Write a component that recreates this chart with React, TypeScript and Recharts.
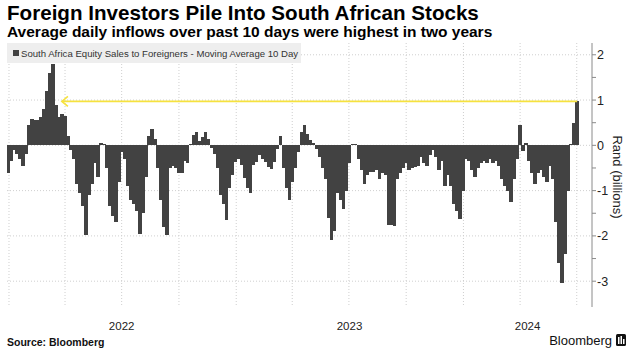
import React from "react";
import { BarChart, Bar, XAxis, YAxis, CartesianGrid, ReferenceLine } from "recharts";

/* ─── 10-day moving average of foreign net equity purchases (R bn) ─── */
// one value per ~4.8 calendar days, from the last day of 2021 to early July 2024
const flows = [
  -0.6, -0.35, -0.1, -0.2, -0.3, -0.45, -0.2, 0.45, 0.58, 0.55,
  0.55, 0.62, 0.8, 1.2, 1.6, 1.8, 0.9, 0.62, 0.7, 0.65,
  0.2, -0.1, -0.3, -0.85, -1.05, -1.35, -1.98, -1.1, -0.85, -0.4,
  -0.7, 0.05, 0.03, -0.5, -1.35, -1.55, -1.7, -0.8, -0.15, -0.3,
  -0.9, -1.2, -1.3, -1.45, -1.95, -1.5, -0.7, 0.2, 0.35, 0.15,
  -0.5, -1.2, -1.8, -1.98, -0.5, -0.45, -0.5, -0.6, -0.6, -0.35,
  -0.4, 0.03, 0.22, 0.3, 0.1, 0.18, 0.3, 0.15, -0.05, -0.2,
  -0.5, -1.1, -1.3, -1.65, -0.95, -0.66, -0.37, -0.3, -0.44, -0.73,
  -0.95, -1.05, -0.44, -0.37, -0.22, -0.3, -0.37, -0.48, -0.52, -0.37,
  -0.07, 0.2, -0.5, -0.95, -1.2, -0.8, -0.5, -0.15, 0.3, 0.44,
  0.26, 0.12, 0.06, -0.08, -0.25, -0.5, -0.75, -1.6, -2.1, -1.9,
  -1.05, -1.2, -1.4, -1.0, -0.4, 0.03, 0.04, -0.3, -0.55, -0.85,
  -0.65, -0.58, -0.58, -0.55, -0.75, -0.62, -0.66, -1.75, -1.75, -1.78,
  -0.75, -0.62, -0.5, -0.4, -0.55, -0.5, -0.48, -0.45, -0.25, -0.4,
  -0.45, -0.22, -0.1, -0.25, -0.55, -0.35, -0.9, -0.65, -0.9, -1.3,
  -1.45, -1.62, -1.0, -0.3, -0.35, -0.55, -0.7, -0.5, -0.38, -0.35,
  -0.38, -0.3, -0.4, -0.35, -0.45, -0.75, -0.9, -1.0, -1.25, -0.75,
  -0.3, 0.45, -0.12, 0.05, -0.35, -0.6, -0.85, -0.6, -0.55, -0.7,
  -0.8, -0.45, -0.75, -1.7, -2.6, -3.05, -2.4, -1.0, 0.04, 0.5,
  0.97,
];
const FIRST_DAY = -1.3; // days since 1 Jan 2022
const STEP_DAYS = 4.81;

/* ─── Axes ─── */
const quarterDays = [0, 90, 181, 273, 365, 455, 546, 638, 730, 821, 912];
const yearLabels = ["2022", "2023", "2024"];
const yearLabelDays = [181, 547, 833];
const yMajor = [-3, -2, -1, 0, 1, 2];
const yMinor = [-2.5, -1.5, -0.5, 0.5, 1.5];
const X_DOMAIN = [-3.2, 936.5];
const Y_DOMAIN = [-3.57, 2.26];

/* ─── Annotation arrow (latest reading vs. early-2022 peak) ─── */
const ARROW_FROM = 85;
const ARROW_LEVEL = 0.97;

const data = flows.map((v, i) => ({ day: FIRST_DAY + i * STEP_DAYS, v }));
const lastDay = data[data.length - 1].day;

const YELLOW = "#f6e23f";
const BAR = "#424242";
const BAR_W = 3.6;

// bars packed edge to edge; crisp edges so neighbours leave no light seams
const DenseBar = (p: any) => {
  const { x, y, width, height } = p;
  if (!height) return <g />;
  const cx = x + width / 2;
  const top = Math.min(y, y + height);
  return <rect x={cx - BAR_W / 2} y={top} width={BAR_W} height={Math.abs(height)} fill={BAR} shapeRendering="crispEdges" />;
};

const YTick = ({ x, y, payload }: any) => {
  if (!Number.isInteger(payload.value)) return <g />;
  return (
    <text x={x - 1} y={y} dy={4.5} fontSize={12.5} fill="#222" textAnchor="start">
      {payload.value}
    </text>
  );
};

const YearTick = ({ x, payload }: any) => {
  const i = yearLabelDays.indexOf(payload.value);
  return (
    <text x={x} y={330} fontSize={11.5} fill="#222" textAnchor="middle">
      {i >= 0 ? yearLabels[i] : ""}
    </text>
  );
};

const Arrow = (p: any) => {
  const { x1, y1, x2 } = p;
  const l = Math.min(x1, x2);
  const r = Math.max(x1, x2);
  return (
    <g>
      <line x1={l} y1={y1} x2={r} y2={y1} stroke={YELLOW} strokeWidth={1.8} />
      <polyline points={`${l + 6},${y1 - 5} ${l},${y1} ${l + 6},${y1 + 5}`} fill="none" stroke={YELLOW} strokeWidth={1.6} />
    </g>
  );
};

export default function App() {
  return (
    <div style={{ position: "fixed", left: 0, top: 0, width: 630, height: 353, background: "#fff", fontFamily: "'Liberation Sans', Arial, sans-serif", color: "#000", overflow: "hidden" }}>
      <div style={{ position: "absolute", left: 7, top: 3, fontSize: 20.6, fontWeight: 700, lineHeight: "20px", whiteSpace: "nowrap" }}>
        Foreign Investors Pile Into South African Stocks
      </div>
      <div style={{ position: "absolute", left: 7, top: 23.5, fontSize: 15.5, fontWeight: 700, lineHeight: "15px", whiteSpace: "nowrap" }}>
        Average daily inflows over past 10 days were highest in two years
      </div>

      <div style={{ position: "absolute", left: 0, top: 0 }}>
        <BarChart width={630} height={353} data={data} margin={{ top: 43, right: 0, left: 7, bottom: 0 }} barCategoryGap={0}>
          <CartesianGrid xAxisId="q" stroke="#cfcfcf" strokeDasharray="1 2" verticalValues={quarterDays} horizontalValues={yMajor} />
          <XAxis xAxisId="q" dataKey="day" type="number" domain={X_DOMAIN} allowDataOverflow ticks={quarterDays} hide />
          <XAxis xAxisId="yr" dataKey="day" type="number" domain={X_DOMAIN} allowDataOverflow ticks={yearLabelDays} interval={0}
            height={46} axisLine={false} tickLine={false} tick={<YearTick />} />
          <YAxis orientation="right" width={38} domain={Y_DOMAIN} allowDataOverflow ticks={[...yMinor, ...yMajor].sort((a, b) => a - b)}
            interval={0} axisLine={{ stroke: "#8a8a8a" }} tickLine={{ stroke: "#8a8a8a" }} tickSize={4} tick={<YTick />} />
          <Bar xAxisId="q" dataKey="v" fill={BAR} barSize={3} shape={DenseBar} isAnimationActive={false} />
          <ReferenceLine xAxisId="q" segment={[{ x: ARROW_FROM, y: ARROW_LEVEL }, { x: lastDay, y: ARROW_LEVEL }]} shape={Arrow} ifOverflow="visible" />
        </BarChart>
      </div>

      <div style={{ position: "absolute", left: 7, top: 43, width: 294, height: 20, background: "#eeeeee", display: "flex", alignItems: "center", fontSize: 9.6, color: "#333", whiteSpace: "nowrap" }}>
        <span style={{ display: "inline-block", width: 6, height: 6, background: BAR, marginLeft: 6, marginRight: 2 }} />
        South Africa Equity Sales to Foreigners - Moving Average 10 Day
      </div>

      <div style={{ position: "absolute", left: 617, top: 177, transform: "translate(-50%, -50%) rotate(90deg)", fontSize: 13, color: "#222", whiteSpace: "nowrap" }}>
        Rand (billions)
      </div>

      <div style={{ position: "absolute", left: 7, top: 335, fontSize: 10.5, fontWeight: 700, lineHeight: "14px", color: "#111" }}>
        Source: Bloomberg
      </div>
      <div style={{ position: "absolute", right: 18, top: 333, fontSize: 13, lineHeight: "16px", color: "#111" }}>
        Bloomberg
      </div>
      <svg style={{ position: "absolute", left: 616, top: 334 }} width={10} height={12}>
        <rect x={0} y={0} width={10} height={12} rx={1.5} fill="#111" />
        <rect x={2} y={3} width={1.5} height={7} fill="#fff" />
        <rect x={4.5} y={2} width={1.5} height={8} fill="#fff" />
        <rect x={7} y={5} width={1.5} height={5} fill="#fff" />
      </svg>
    </div>
  );
}
